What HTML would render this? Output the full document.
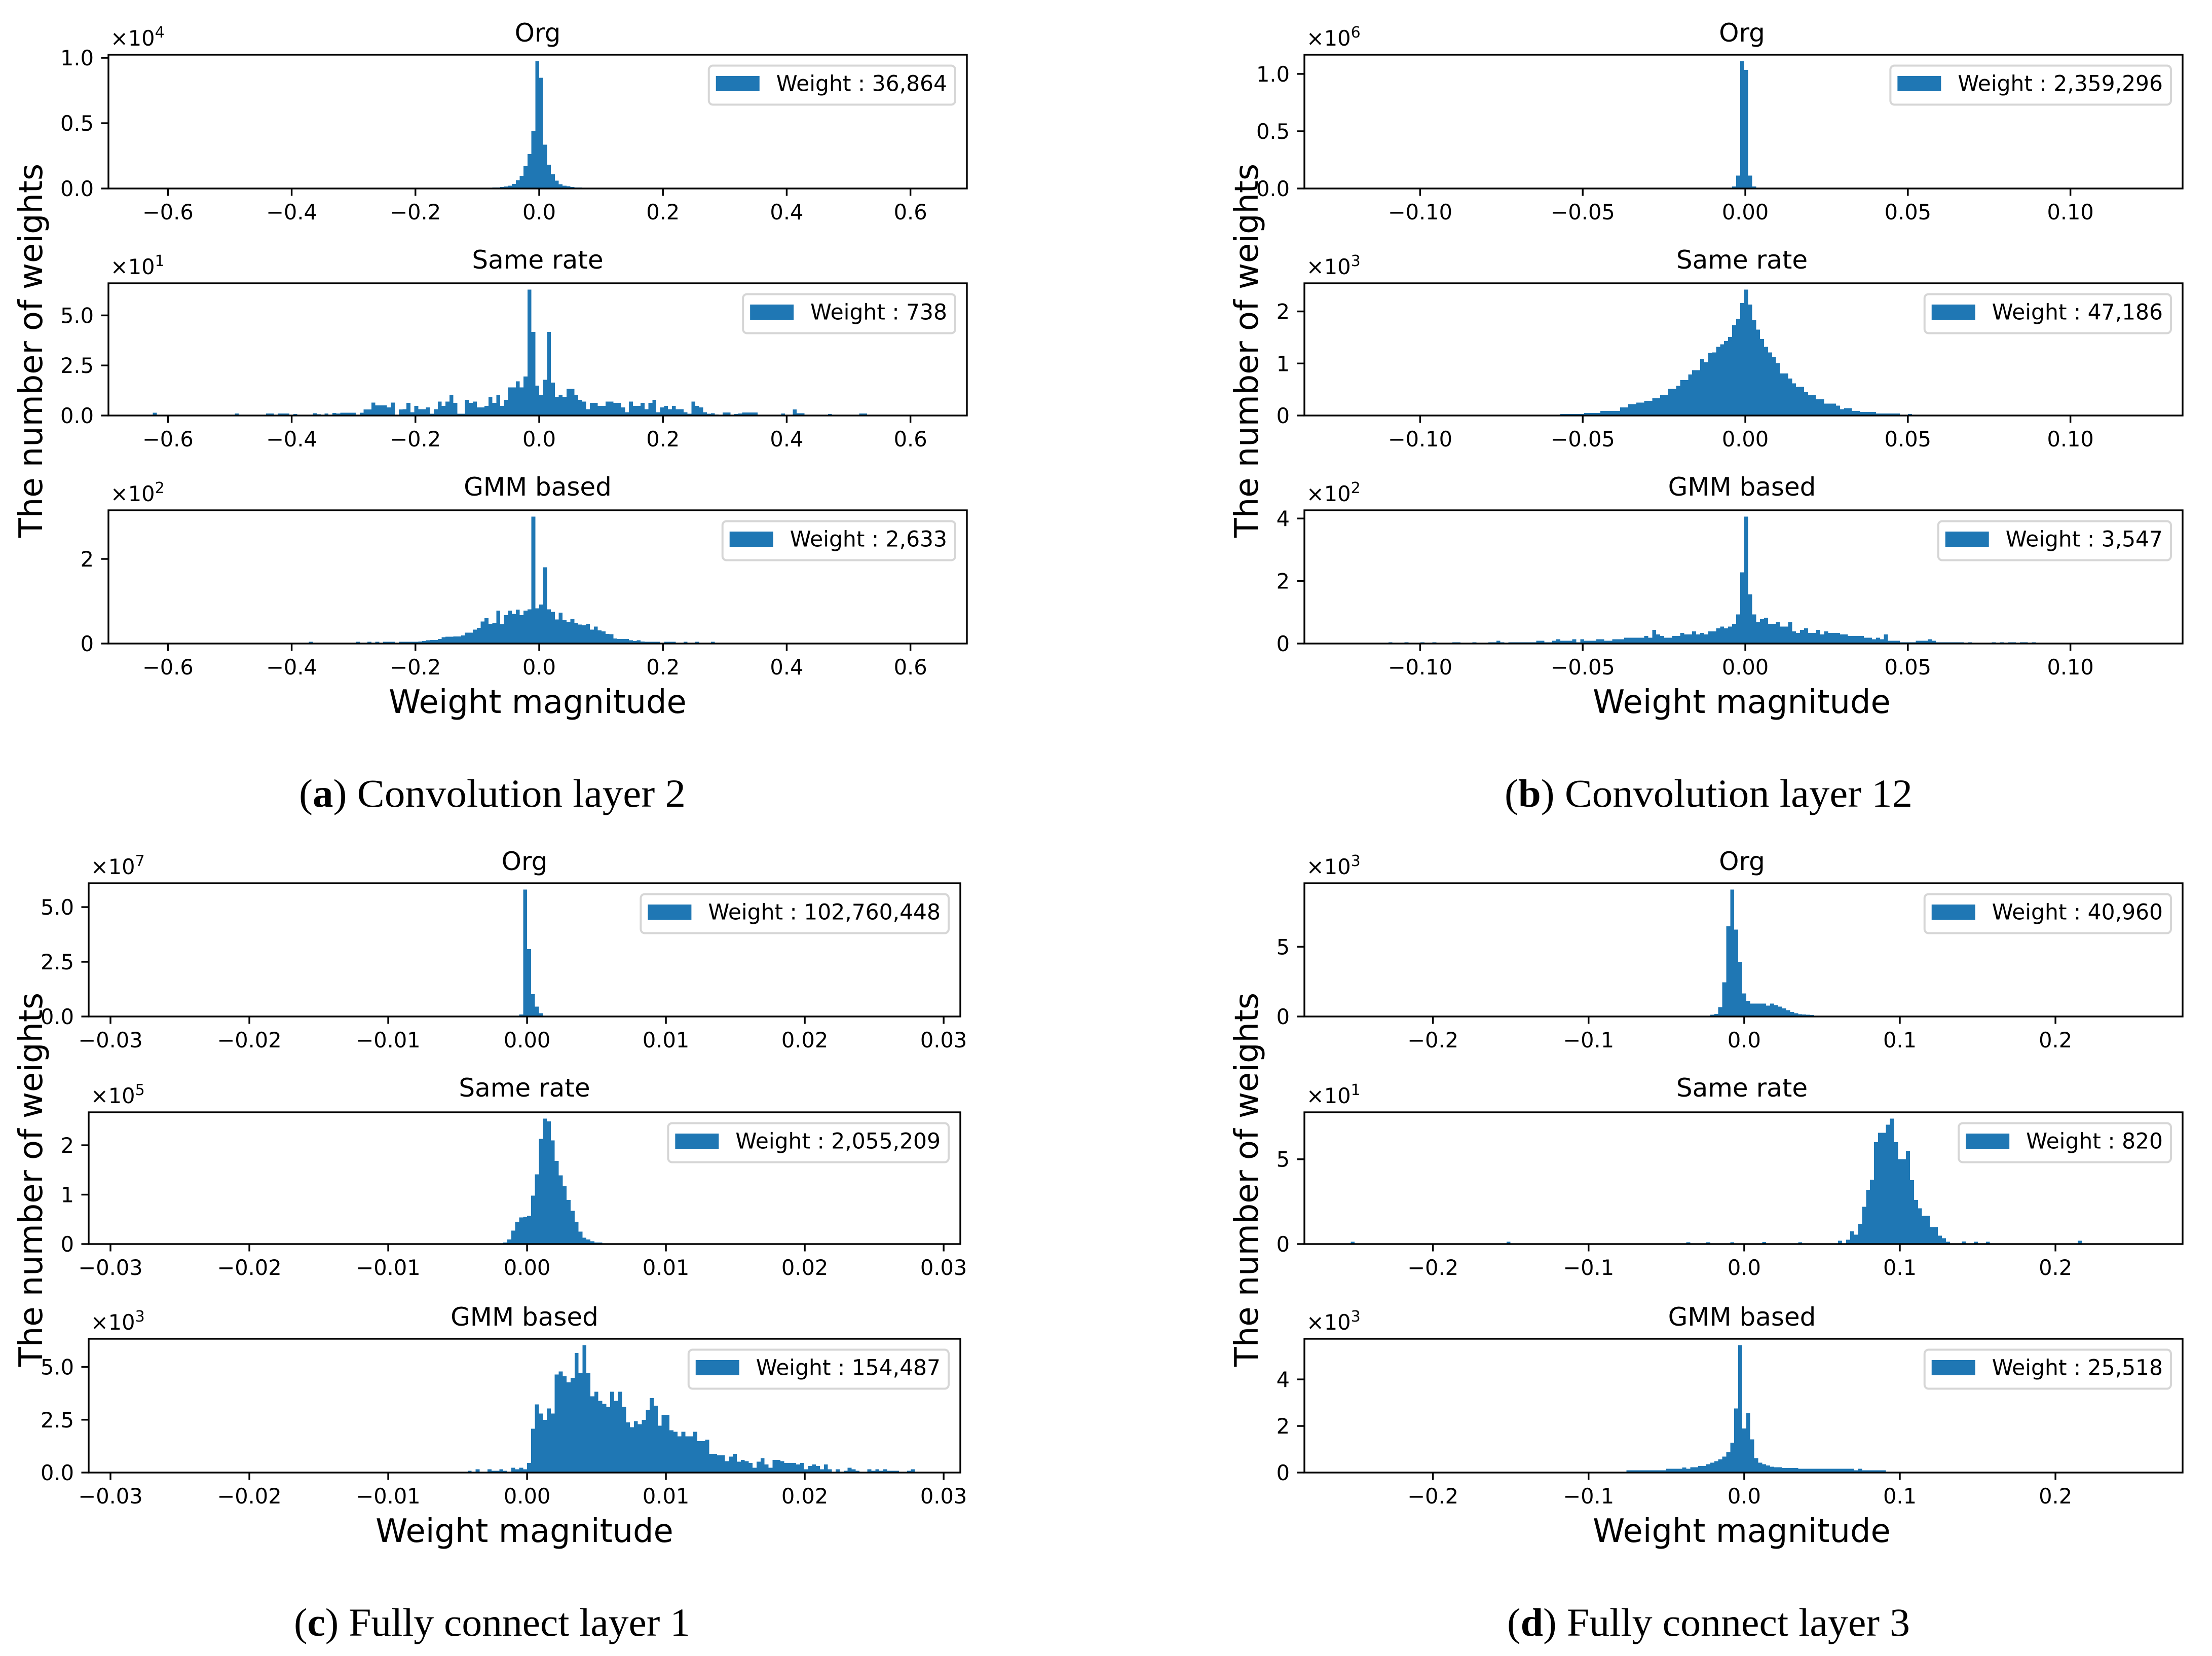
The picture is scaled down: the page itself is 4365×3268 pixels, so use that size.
<!DOCTYPE html>
<html lang="en">
<head>
<meta charset="utf-8">
<title>Weight magnitude histograms</title>
<style>
html,body{margin:0;padding:0;background:#fff;}
svg{display:block;}
text{font-family:"DejaVu Sans","Liberation Sans",sans-serif;fill:#000;}
.axis-title{font-size:63.8px;}
.caption{font-family:"Liberation Serif",serif;font-size:78px;}
.caption tspan.b{font-weight:bold;}
</style>
</head>
<body>
<svg id="chart" xmlns="http://www.w3.org/2000/svg" width="4365" height="3268" viewBox="0 0 4365 3268">
  <rect x="0" y="0" width="4365" height="3268" fill="#fff"/>
  <g id="plots"></g>
  <text class="axis-title" transform="translate(83 692) rotate(-90)" text-anchor="middle">The number of weights</text>
  <text class="axis-title" transform="translate(2482 692) rotate(-90)" text-anchor="middle">The number of weights</text>
  <text class="axis-title" transform="translate(83 2328) rotate(-90)" text-anchor="middle">The number of weights</text>
  <text class="axis-title" transform="translate(2482 2328) rotate(-90)" text-anchor="middle">The number of weights</text>
  <text class="axis-title" x="1061" y="1407" text-anchor="middle">Weight magnitude</text>
  <text class="axis-title" x="3437" y="1407" text-anchor="middle">Weight magnitude</text>
  <text class="axis-title" x="1035" y="3043" text-anchor="middle">Weight magnitude</text>
  <text class="axis-title" x="3437" y="3043" text-anchor="middle">Weight magnitude</text>
  <text class="caption" x="590" y="1592" textLength="763" lengthAdjust="spacingAndGlyphs">(<tspan class="b">a</tspan>) Convolution layer 2</text>
  <text class="caption" x="2969" y="1592" textLength="805" lengthAdjust="spacingAndGlyphs">(<tspan class="b">b</tspan>) Convolution layer 12</text>
  <text class="caption" x="580" y="3228" textLength="782" lengthAdjust="spacingAndGlyphs">(<tspan class="b">c</tspan>) Fully connect layer 1</text>
  <text class="caption" x="2974" y="3228" textLength="795" lengthAdjust="spacingAndGlyphs">(<tspan class="b">d</tspan>) Fully connect layer 3</text>
</svg>
<script>
// ---------- data: histogram heights in the units of each y axis, starting at bin index *First ----------
const a1First = -13;
const a1Counts = [.006,.008,.008,.012,.015,.022,.034,.064,.096,.17,.264,.44,.975,.847,.335,.182,.108,.06,.032,.022,.017,.012,.008,.008];
const a2First = -99;
const a2Counts = [1.4,0,0,0,0,0,0,0,0,0,0,0,0,0,0,0,0,0,0,0,0,1,0,0,0,0,0,0,0,1,1,0,1,1,1,0,.8,0,0,0,0,1.2,.6,0,1,.4,1.3,1,1.4,1.4,1.4,1.4,.3,1.4,3,3,6.5,5,5,5,4,6.5,0,3,3.2,6.3,1.7,4.8,3.2,3.2,4,.9,3.2,7,4.8,7,10.2,6.3,.9,.9,7.8,6.3,7,4,4,4.8,9.3,6.3,10.2,4.8,7.8,14,14,17.1,14,19.5,62.9,41.8,14.9,10.2,17.9,41.8,16.4,9.3,10.2,9.3,13.3,13.3,10.2,7.8,7,3.2,6.3,6.3,4.8,4.8,7,7,6.3,6.3,4,1.7,7,4.8,4.8,6.3,3.2,6.3,7.8,1.7,4,4.8,3.2,4.8,3.2,3.2,1.7,.9,7,4.8,4,1.7,.9,1.2,.5,0,1.5,1.5,0,.7,1,1.5,1.5,1.5,1.5,0,0,0,0,0,0,1,0,0,3,1.2,1.2,0,0,0,0,0,0,.8,0,0,0,0,0,0,0,1,1];
const a3First = -59;
const a3Counts = [4,0,0,0,0,0,0,0,0,0,0,0,4,0,0,4,0,4,0,4,4,4,0,4,4,4,4,4,5,6,8,8.5,8.5,11,15,16,16,17,17,19,26,26,33,37,52,60,47,49,78,46,67,78,70,80,67,78,81,300,83,92,180,81,75,57,73,55,51,58,49,45,43,47,33,40,31,29,23,22,12,11,11,11,8,6,8,5,4,4,4,4,0,4,4,4,0,0,4,0,0,4,0,0,0,4];
const b1First = -3;
const b1Counts = [.017,.112,1.112,1.034,.112,.017];
const b2First = -46;
const b2Counts = [.03,.03,.03,.03,.03,.03,.05,.05,.05,.05,.09,.09,.09,.09,.09,.155,.155,.22,.22,.25,.25,.28,.28,.33,.33,.40,.40,.51,.51,.57,.68,.68,.79,.87,.87,1.09,1.02,1.2,1.21,1.32,1.37,1.43,1.51,1.74,1.86,2.16,2.42,2.13,1.83,1.65,1.47,1.32,1.21,1.12,1.01,.81,.81,.71,.62,.55,.55,.45,.39,.39,.31,.31,.23,.23,.23,.19,.12,.14,.14,.09,.09,.07,.07,.07,.07,.04,.04,.04,.04,.04,.04,0,0,.03];
const b3First = -89;
const b3Counts = [4.3,0,0,0,4.3,0,0,0,4.3,0,0,4.3,0,0,0,0,4.3,4.3,0,0,0,4.3,0,0,0,4.3,4.3,9,4.3,0,4.3,4.3,4.3,4.3,4.3,4.3,4.3,9,9,4.3,4.3,9,14,9,9,9,14,4.3,14,9,9,9,14,14,9,9,14,14,14,19,19,19,19,19,24,19,44,29,24,19,19,24,24,34,29,29,39,29,34,29,39,39,49,54,49,54,63,93,228,406,157,93,68,78,83,63,63,68,54,54,68,39,34,44,49,34,34,44,29,39,34,34,34,29,29,24,24,24,24,19,19,14,19,14,29,9,9,9,4.3,4.3,4.3,4.3,9,9,9,14,9,4.3,4.3,4.3,4.3,4.3,4.3,4.3,0,4.3,0,0,0,0,0,4.3,0,4.3,0,4.3,4.3,0,4.3,4.3,0,4.3];
const c1First = -2;
const c1Counts = [.09,5.8,3.08,1.02,.45,.15];
const c2First = -6;
const c2Counts = [.03,.09,.27,.45,.54,.55,.57,.98,1.41,2.13,2.54,2.48,2.1,1.68,1.39,1.17,.89,.67,.45,.25,.13,.09,.055,.03,.03];
const c3First = -15;
const c3Counts = [.08,0,.16,0,0,.16,.08,.08,.16,.08,0,.23,.16,.23,.16,.45,2.07,3.23,2.8,2.5,3.03,2.8,4.64,4.78,4.56,4.27,4.49,5.66,4.71,6.03,4.71,3.61,3.83,3.39,3.25,3.11,3.83,3.39,3.83,3.11,2.37,2.15,2.44,2.29,2.5,2.96,3.53,3.17,2.22,2.73,2.73,2.0,1.93,1.72,1.93,1.72,1.72,1.93,1.49,1.49,1.56,.89,.89,.81,.81,.54,.75,.89,.52,.6,.54,.46,.23,.52,.68,.38,.23,.6,.6,.54,.46,.46,.46,.38,.46,.16,.31,.38,.31,.16,.38,.16,0,.16,0,.08,.23,.16,.08,0,0,.16,.08,.16,.08,.16,.08,.08,.08,0,0,.08,.16];
const d1First = -9;
const d1Counts = [.12,.19,.68,2.45,6.46,9.1,6.23,3.93,1.65,1.13,.93,.93,.93,.93,.78,.93,.82,.7,.58,.45,.33,.23,.16,.14,.13,.1];
const d2First = -99;
const d2Counts = [1.3,0,0,0,0,0,0,0,0,0,0,0,0,0,0,0,0,0,0,0,0,0,0,0,0,0,0,0,0,0,0,0,0,0,0,0,0,0,0,1.3,0,0,0,0,0,0,0,0,0,0,0,0,0,0,0,0,0,0,0,0,0,0,0,0,0,0,0,0,0,0,0,0,0,0,0,0,0,0,0,0,0,0,0,0,1,0,0,0,0,1,0,0,0,0,0,1,0,0,0,0,0,0,0,1.2,0,0,0,0,0,0,0,0,1,0,0,0,0,0,0,0,0,0,2,0,2.6,7.4,5.5,12,22,32,38,60,65.6,65.6,70.4,74,60,50,50,55,37.6,26,21,16.6,16.6,10,10,5,3.4,1.3,0,0,0,1.5,0,0,1.3,0,0,1.3,0,0,0,0,0,0,0,0,0,0,0,0,0,0,0,0,0,0,0,0,0,0,2];
const d3First = -30;
const d3Counts = [.1,.1,.1,.1,.1,.1,.1,.1,.1,.1,.16,.16,.16,.16,.22,.16,.23,.23,.28,.28,.36,.42,.49,.57,.68,.88,1.28,2.75,5.47,1.89,2.55,1.42,.62,.42,.36,.31,.25,.23,.23,.2,.2,.2,.2,.16,.16,.16,.16,.16,.16,.16,.16,.16,.16,.16,.16,.16,.16,.1,.16,.1,.1,.1,.1,.1,.1];

// tick values and labels
const aXTicks = [-0.6,-0.4,-0.2,0,0.2,0.4,0.6];
const aXLabels = ["\u22120.6","\u22120.4","\u22120.2","0.0","0.2","0.4","0.6"];
const bXTicks = [-0.1,-0.05,0,0.05,0.1];
const bXLabels = ["\u22120.10","\u22120.05","0.00","0.05","0.10"];
const cXTicks = [-0.03,-0.02,-0.01,0,0.01,0.02,0.03];
const cXLabels = ["\u22120.03","\u22120.02","\u22120.01","0.00","0.01","0.02","0.03"];
const dXTicks = [-0.2,-0.1,0,0.1,0.2];
const dXLabels = ["\u22120.2","\u22120.1","0.0","0.1","0.2"];
const a1YTicks = [0,0.5,1];      const a1YLabels = ["0.0","0.5","1.0"];
const a2YTicks = [0,25,50];      const a2YLabels = ["0.0","2.5","5.0"];
const a3YTicks = [0,200];        const a3YLabels = ["0","2"];
const b1YTicks = [0,0.5,1];      const b1YLabels = ["0.0","0.5","1.0"];
const b2YTicks = [0,1,2];        const b2YLabels = ["0","1","2"];
const b3YTicks = [0,200,400];    const b3YLabels = ["0","2","4"];
const c1YTicks = [0,2.5,5];      const c1YLabels = ["0.0","2.5","5.0"];
const c2YTicks = [0,1,2];        const c2YLabels = ["0","1","2"];
const c3YTicks = [0,2.5,5];      const c3YLabels = ["0.0","2.5","5.0"];
const d1YTicks = [0,5];          const d1YLabels = ["0","5"];
const d2YTicks = [0,50];         const d2YLabels = ["0","5"];
const d3YTicks = [0,2,4];        const d3YLabels = ["0","2","4"];

// ---------- drawing ----------
const NS = "http://www.w3.org/2000/svg";
const BAR_COLOR = "#1f77b4";
const TICK_FS = 41.5, TITLE_FS = 50, LEGEND_FS = 42.4;
const root = document.getElementById("plots");

function make(tag, parent, attrs, text) {
  const n = document.createElementNS(NS, tag);
  for (const k in attrs) n.setAttribute(k, attrs[k]);
  if (text !== undefined) n.textContent = text;
  parent.appendChild(n);
  return n;
}

function drawPanel(id, box, xAxis, title, legendText, exponent, first, counts, yTicks, yLabels) {
  const g = make("g", root, {});
  
  

  const xPos = v => box.left + (v - xAxis.min) / (xAxis.max - xAxis.min) * (box.right - box.left);
  const yMax = Math.max.apply(null, counts) * 1.05;
  const yPos = v => box.bottom - v / yMax * (box.bottom - box.top);

  // bars
  const bars = make("g", g, {"shape-rendering": "crispEdges", fill: BAR_COLOR});
  
  
  counts.forEach((c, i) => {
    if (!c) return;
    const e0 = xPos((first + i + xAxis.shift) * xAxis.bin);
    const e1 = xPos((first + i + 1 + xAxis.shift) * xAxis.bin);
    const bar = make("rect", bars, {x: e0, y: yPos(c), width: e1 - e0, height: box.bottom - yPos(c)});
    
    
  });

  // spines
  const frame = make("rect", g, {x: box.left, y: box.top, width: box.right - box.left, height: box.bottom - box.top, fill: "none", stroke: "#000", "stroke-width": 3.4});
  
  

  // x ticks
  xAxis.ticks.forEach((t, i) => {
    const px = xPos(t);
    const tick = make("line", g, {x1: px, x2: px, y1: box.bottom, y2: box.bottom + 14.5, stroke: "#000", "stroke-width": 3.4});
    
    
    const lab = make("text", g, {x: px, y: box.bottom + 61, "text-anchor": "middle", "font-size": TICK_FS}, xAxis.labels[i]);
    
    
  });

  // y ticks
  yTicks.forEach((t, i) => {
    const py = yPos(t);
    const tick = make("line", g, {x1: box.left - 14.5, x2: box.left, y1: py, y2: py, stroke: "#000", "stroke-width": 3.4});
    
    
    const lab = make("text", g, {x: box.left - 29, y: py + 15, "text-anchor": "end", "font-size": TICK_FS}, yLabels[i]);
    
    
  });

  // title
  const ttl = make("text", g, {x: (box.left + box.right) / 2 + box.titleShift, y: box.top - box.titleGap, "text-anchor": "middle", "font-size": TITLE_FS}, title);
  
  

  // offset text
  const off = make("text", g, {x: box.left + 4, y: box.top - 18, "font-size": TICK_FS}, "\u00d710");
  
  
  make("tspan", off, {dy: -16, "font-size": 30}, String(exponent));

  // legend
  const boxRight = box.right - 23;
  const boxTop = box.top + 21.5;
  const legend = make("g", g, {});
  
  
  const frameL = make("rect", legend, {y: boxTop, height: 77, rx: 8, fill: "#fff", "fill-opacity": 0.8, stroke: "#d6d6d6", "stroke-width": 4});
  
  
  const lt = make("text", legend, {x: boxRight - 16, y: boxTop + 50, "text-anchor": "end", "font-size": LEGEND_FS}, legendText);
  
  
  const w = lt.getComputedTextLength();
  const boxLeft = boxRight - (w + 16 + 33 + 83 + 17);
  frameL.setAttribute("x", boxLeft);
  frameL.setAttribute("width", boxRight - boxLeft);
  const sw = make("rect", legend, {x: boxLeft + 14, y: boxTop + 20.5, width: 86, height: 30, fill: BAR_COLOR});
  
  
}

// layout
const top1 = {top: 108, bottom: 372, titleGap: 26}, mid1 = {top: 559, bottom: 820, titleGap: 29}, low1 = {top: 1007, bottom: 1270, titleGap: 29};
const top2 = {top: 1743, bottom: 2006, titleGap: 26}, mid2 = {top: 2195, bottom: 2455, titleGap: 31}, low2 = {top: 2642, bottom: 2906, titleGap: 26};
const colA = {left: 214, right: 1908, titleShift: 0}, colB = {left: 2574, right: 4307, titleShift: -3}, colC = {left: 175, right: 1895, titleShift: 0}, colD = colB;
const panelBox = (c, r) => ({left: c.left, right: c.right, top: r.top, bottom: r.bottom, titleGap: r.titleGap, titleShift: c.titleShift});

const axisA = {min: -0.6961, max: 0.6912, bin: 0.006306, shift: 0, ticks: aXTicks, labels: aXLabels};
const axisB = {min: -0.1356, max: 0.1345, bin: 0.001229, shift: -0.3, ticks: bXTicks, labels: bXLabels};
const axisC = {min: -0.03157, max: 0.0312, bin: 0.000285, shift: 0, ticks: cXTicks, labels: cXLabels};
const axisD = {min: -0.2826, max: 0.2817, bin: 0.002567, shift: 0.5, ticks: dXTicks, labels: dXLabels};

drawPanel("a-org", panelBox(colA, top1), axisA, "Org", "Weight : 36,864", 4, a1First, a1Counts, a1YTicks, a1YLabels);
drawPanel("a-same-rate", panelBox(colA, mid1), axisA, "Same rate", "Weight : 738", 1, a2First, a2Counts, a2YTicks, a2YLabels);
drawPanel("a-gmm", panelBox(colA, low1), axisA, "GMM based", "Weight : 2,633", 2, a3First, a3Counts, a3YTicks, a3YLabels);
drawPanel("b-org", panelBox(colB, top1), axisB, "Org", "Weight : 2,359,296", 6, b1First, b1Counts, b1YTicks, b1YLabels);
drawPanel("b-same-rate", panelBox(colB, mid1), axisB, "Same rate", "Weight : 47,186", 3, b2First, b2Counts, b2YTicks, b2YLabels);
drawPanel("b-gmm", panelBox(colB, low1), axisB, "GMM based", "Weight : 3,547", 2, b3First, b3Counts, b3YTicks, b3YLabels);
drawPanel("c-org", panelBox(colC, top2), axisC, "Org", "Weight : 102,760,448", 7, c1First, c1Counts, c1YTicks, c1YLabels);
drawPanel("c-same-rate", panelBox(colC, mid2), axisC, "Same rate", "Weight : 2,055,209", 5, c2First, c2Counts, c2YTicks, c2YLabels);
drawPanel("c-gmm", panelBox(colC, low2), axisC, "GMM based", "Weight : 154,487", 3, c3First, c3Counts, c3YTicks, c3YLabels);
drawPanel("d-org", panelBox(colD, top2), axisD, "Org", "Weight : 40,960", 3, d1First, d1Counts, d1YTicks, d1YLabels);
drawPanel("d-same-rate", panelBox(colD, mid2), axisD, "Same rate", "Weight : 820", 1, d2First, d2Counts, d2YTicks, d2YLabels);
drawPanel("d-gmm", panelBox(colD, low2), axisD, "GMM based", "Weight : 25,518", 3, d3First, d3Counts, d3YTicks, d3YLabels);
</script>
</body>
</html>
